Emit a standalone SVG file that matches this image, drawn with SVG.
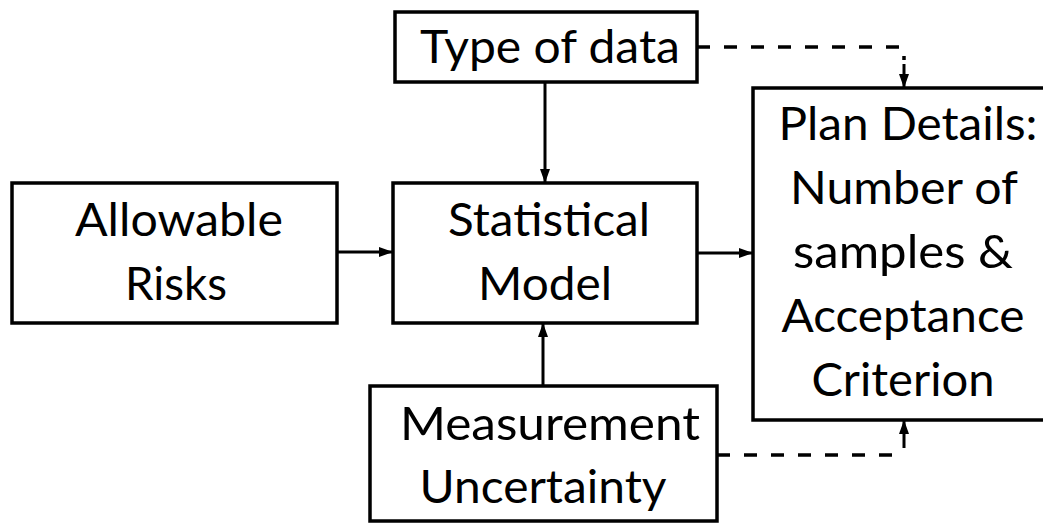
<svg xmlns="http://www.w3.org/2000/svg" width="1043" height="523" viewBox="0 0 1043 523">
<style>
.box{fill:#fff;stroke:#000;stroke-width:3.5}
.t{font-family:Lato,"Open Sans","Liberation Sans",sans-serif;font-size:47px;fill:#000;text-anchor:middle}
.c{fill:none;stroke:#000;stroke-width:3}
.d{fill:none;stroke:#000;stroke-width:3.5;stroke-dasharray:13 14}
</style>
<defs>
<marker id="ah" markerUnits="userSpaceOnUse" markerWidth="14" markerHeight="14" viewBox="0 0 14 14" refX="13" refY="7" orient="auto">
<path d="M0,2 L14,7 L0,12 Z" fill="#000"/>
</marker>
</defs>
<rect width="1043" height="523" fill="#fff"/>
<g id="connectors">
<line class="c" x1="545" y1="82" x2="545" y2="182" marker-end="url(#ah)"/>
<line class="c" x1="337" y1="252" x2="392" y2="252" marker-end="url(#ah)"/>
<line class="c" x1="697" y1="253" x2="752" y2="253" marker-end="url(#ah)"/>
<line class="c" x1="543" y1="386" x2="543" y2="324" marker-end="url(#ah)"/>
<path class="d" d="M697,47 H904 V60"/>
<line class="c" x1="904" y1="64" x2="904" y2="87" marker-end="url(#ah)"/>
<path class="d" d="M717,455 H902"/>
<line class="c" x1="904" y1="448" x2="904" y2="421" marker-end="url(#ah)"/>
</g>
<g id="type-of-data">
<rect class="box" x="395" y="12" width="302" height="70"/>
<text class="t" x="550" y="63" textLength="260" lengthAdjust="spacingAndGlyphs">Type of data</text>
</g>
<g id="allowable-risks">
<rect class="box" x="12" y="183" width="325" height="140"/>
<text class="t" x="179" y="236" textLength="208" lengthAdjust="spacingAndGlyphs">Allowable</text>
<text class="t" x="176" y="300" textLength="102" lengthAdjust="spacingAndGlyphs">Risks</text>
</g>
<g id="statistical-model">
<rect class="box" x="393" y="183" width="304" height="140"/>
<text class="t" x="549" y="236" textLength="202" lengthAdjust="spacingAndGlyphs">Statistical</text>
<text class="t" x="545" y="300" textLength="134" lengthAdjust="spacingAndGlyphs">Model</text>
</g>
<g id="plan-details">
<rect class="box" x="753" y="88" width="310" height="332"/>
<text class="t" x="908" y="140" textLength="259" lengthAdjust="spacingAndGlyphs">Plan Details:</text>
<text class="t" x="904" y="204" textLength="228" lengthAdjust="spacingAndGlyphs">Number of</text>
<text class="t" x="903" y="268" textLength="220" lengthAdjust="spacingAndGlyphs">samples &amp;</text>
<text class="t" x="903" y="332" textLength="243" lengthAdjust="spacingAndGlyphs">Acceptance</text>
<text class="t" x="903" y="396" textLength="183" lengthAdjust="spacingAndGlyphs">Criterion</text>
</g>
<g id="measurement-uncertainty">
<rect class="box" x="370" y="386" width="347" height="135"/>
<text class="t" x="550" y="440" textLength="300" lengthAdjust="spacingAndGlyphs">Measurement</text>
<text class="t" x="543" y="503" textLength="247" lengthAdjust="spacingAndGlyphs">Uncertainty</text>
</g>
</svg>
